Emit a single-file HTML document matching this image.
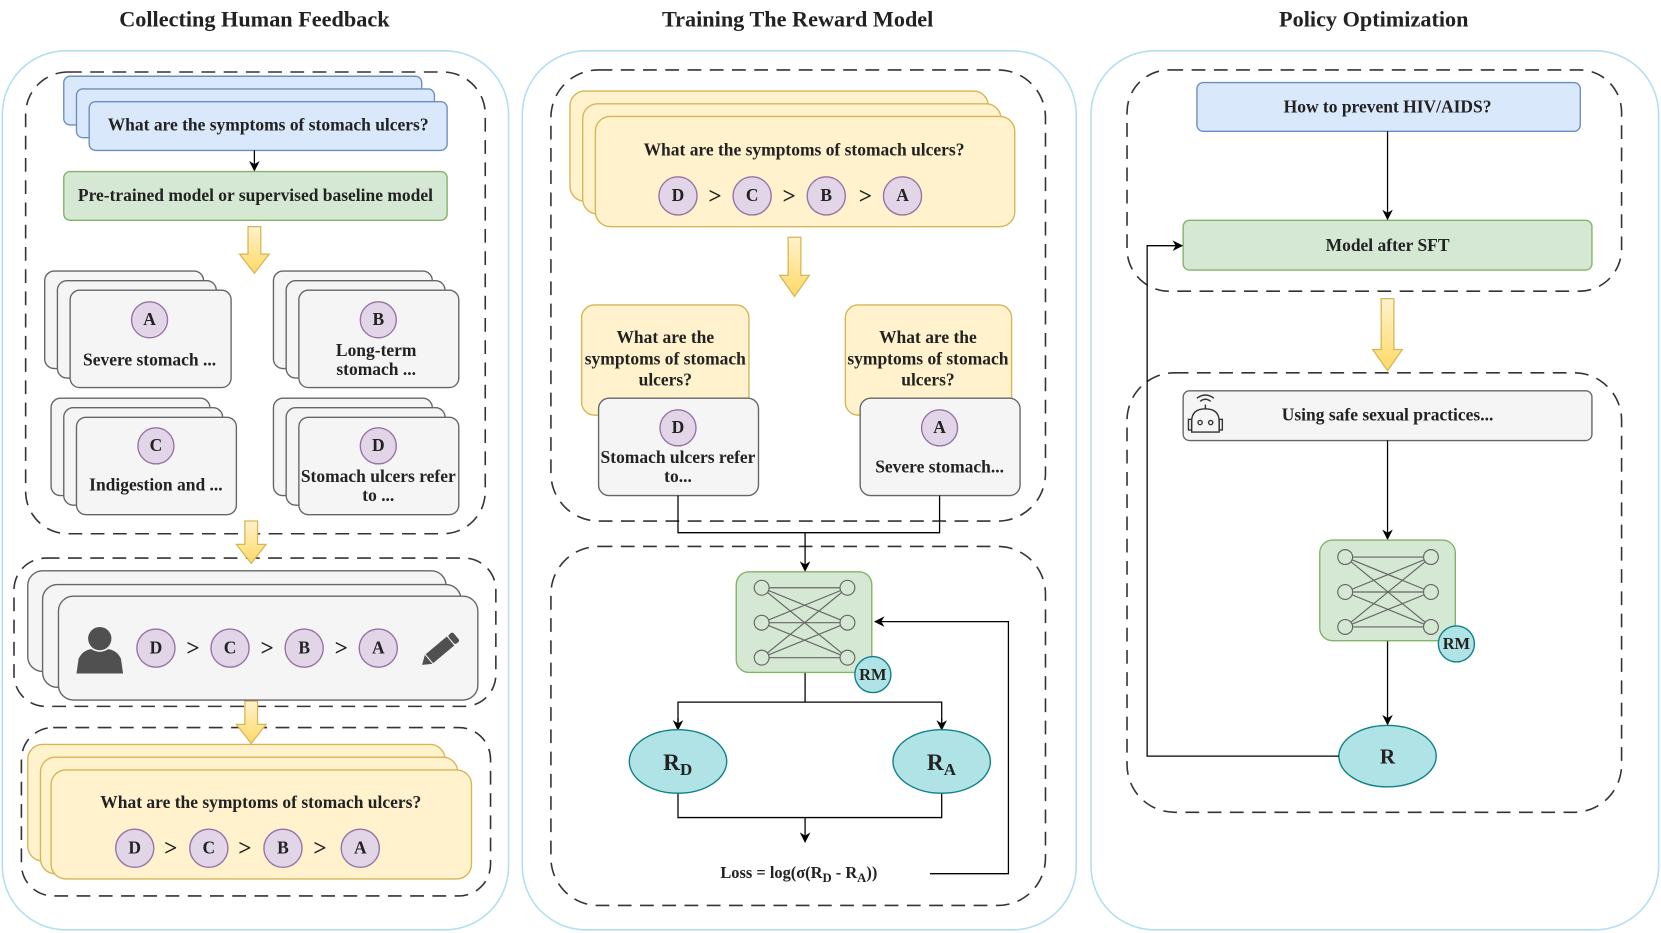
<!DOCTYPE html>
<html><head><meta charset="utf-8"><style>
html,body{margin:0;padding:0;background:#fff;width:1661px;height:933px;overflow:hidden}
svg{display:block}
text{font-family:"Liberation Serif","Times New Roman",serif;font-weight:bold;fill:#222}
</style></head><body>
<svg width="1661" height="933" viewBox="0 0 1568 881" xmlns="http://www.w3.org/2000/svg">
<defs>
<linearGradient id="yg" x1="0" y1="0" x2="0" y2="1"><stop offset="0" stop-color="#fff2cc"/><stop offset="1" stop-color="#ffd966"/></linearGradient>
<marker id="ah" markerWidth="10" markerHeight="10" refX="9" refY="5" orient="auto" markerUnits="userSpaceOnUse"><path d="M0,0 L10,5 L0,10 L3,5 Z" fill="#000"/></marker>
</defs>

<text x="240" y="25" font-size="21" text-anchor="middle" fill="#000">Collecting Human Feedback</text>
<text x="753" y="25" font-size="21" text-anchor="middle" fill="#000">Training The Reward Model</text>
<text x="1297" y="25" font-size="21" text-anchor="middle" fill="#000">Policy Optimization</text>

<g fill="none" stroke="#b3dff0" stroke-width="1.5">
<rect x="2" y="48" width="478" height="830" rx="60"/>
<rect x="493" y="48" width="523" height="830" rx="60"/>
<rect x="1030" y="48" width="536" height="830" rx="60"/>
</g>

<g fill="none" stroke="#333" stroke-width="1.5" stroke-dasharray="13 8">
<rect x="24" y="68" width="434" height="436" rx="40"/>
<rect x="13" y="527" width="455" height="140" rx="30"/>
<rect x="20" y="687" width="443" height="159" rx="30"/>
<rect x="520" y="66" width="467" height="426" rx="45"/>
<rect x="520" y="516" width="467" height="339" rx="45"/>
<rect x="1064" y="66" width="467" height="209" rx="40"/>
<rect x="1064" y="352" width="467" height="415" rx="45"/>
</g>

<g fill="#dae8fc" stroke="#6c8ebf" stroke-width="1.3">
<rect x="60" y="72" width="338" height="46" rx="6"/>
<rect x="72" y="84" width="338" height="46" rx="6"/>
<rect x="84" y="96" width="338" height="46" rx="6"/>
</g>
<text x="253" y="123" font-size="16.5" text-anchor="middle">What are the symptoms of stomach ulcers?</text>
<line x1="240" y1="142" x2="240" y2="161" stroke="#000" stroke-width="1.2" marker-end="url(#ah)"/>
<rect x="60" y="162" width="362" height="46" rx="6" fill="#d5e8d4" stroke="#82b366" stroke-width="1.3"/>
<text x="241" y="190" font-size="16.5" text-anchor="middle">Pre-trained model or supervised baseline model</text>

<g fill="url(#yg)" stroke="#d6b656" stroke-width="1.2">
<polygon points="234,214 246,214 246,240 254,240 240,258 226,240 234,240"/>
<polygon points="231,492 243,492 243,514 251,514 237,532 223,514 231,514"/>
<polygon points="231,662 243,662 243,684 251,684 237,702 223,684 231,684"/>
<polygon points="744,224 756,224 756,260 764,260 750,280 736,260 744,260"/>
<polygon points="1304,282 1316,282 1316,330 1324,330 1310,350 1296,330 1304,330"/>
</g>

<g fill="#f5f5f5" stroke="#666" stroke-width="1.3">
<rect x="42" y="256" width="150" height="92" rx="9"/><rect x="54" y="265" width="150" height="92" rx="9"/><rect x="66" y="274" width="152" height="92" rx="9"/>
<rect x="258" y="256" width="150" height="92" rx="9"/><rect x="270" y="265" width="150" height="92" rx="9"/><rect x="282" y="274" width="151" height="92" rx="9"/>
<rect x="48" y="376" width="150" height="92" rx="9"/><rect x="60" y="385" width="150" height="92" rx="9"/><rect x="72" y="394" width="151" height="92" rx="9"/>
<rect x="258" y="376" width="150" height="92" rx="9"/><rect x="270" y="385" width="150" height="92" rx="9"/><rect x="282" y="394" width="151" height="92" rx="9"/>
<rect x="26" y="539" width="395" height="95" rx="14"/><rect x="40" y="552" width="395" height="97" rx="14"/><rect x="55" y="563" width="396" height="98" rx="14"/>
</g>

<g fill="#e1d5e7" stroke="#9673a6" stroke-width="1.3">
<circle cx="141" cy="302" r="17"/><circle cx="357" cy="302" r="17"/><circle cx="147" cy="421" r="17"/><circle cx="357" cy="421" r="17"/>
<circle cx="147" cy="612" r="18"/><circle cx="217" cy="612" r="18"/><circle cx="287" cy="612" r="18"/><circle cx="357" cy="612" r="18"/>
</g>
<g font-size="16.5" text-anchor="middle">
<text x="141" y="307">A</text><text x="357" y="307">B</text><text x="147" y="426">C</text><text x="357" y="426">D</text>
<text x="141" y="345">Severe stomach ...</text>
<text x="355" y="336">Long-term</text><text x="355" y="354">stomach ...</text>
<text x="147" y="463">Indigestion and ...</text>
<text x="357" y="455">Stomach ulcers refer</text><text x="357" y="473">to ...</text>
<text x="147" y="617">D</text><text x="217" y="617">C</text><text x="287" y="617">B</text><text x="357" y="617">A</text>
<text x="182" y="619" font-size="22">&gt;</text><text x="252" y="619" font-size="22">&gt;</text><text x="322" y="619" font-size="22">&gt;</text>
</g>
<g fill="#505050">
<circle cx="94" cy="603" r="11"/>
<path d="M72,636 L74,622 Q78,614 86,613 Q94,618 102,613 Q110,614 114,622 L116,636 Z"/>
</g>
<g transform="translate(416,613) rotate(-40)">
<rect x="-14" y="-5.5" width="26" height="11" fill="#505050"/>
<rect x="13" y="-5.5" width="6" height="11" rx="2" fill="#505050"/>
<polygon points="-15,-5.5 -15,5.5 -23,0" fill="#505050"/>
</g>

<g fill="#fff2cc" stroke="#d6b656" stroke-width="1.3">
<rect x="26" y="703" width="394" height="110" rx="14"/>
<rect x="38" y="715" width="394" height="110" rx="14"/>
<rect x="48" y="727" width="397" height="103" rx="14"/>
</g>
<g fill="#e1d5e7" stroke="#9673a6" stroke-width="1.3">
<circle cx="127" cy="801" r="18"/><circle cx="197" cy="801" r="18"/><circle cx="267" cy="801" r="18"/><circle cx="340" cy="801" r="18"/>
</g>
<g font-size="16.5" text-anchor="middle">
<text x="246" y="763">What are the symptoms of stomach ulcers?</text>
<text x="127" y="806">D</text><text x="197" y="806">C</text><text x="267" y="806">B</text><text x="340" y="806">A</text>
<text x="161" y="808" font-size="22">&gt;</text><text x="231" y="808" font-size="22">&gt;</text><text x="302" y="808" font-size="22">&gt;</text>
</g>

<g fill="#fff2cc" stroke="#d6b656" stroke-width="1.3">
<rect x="538" y="86" width="395" height="104" rx="14"/>
<rect x="550" y="98" width="395" height="104" rx="14"/>
<rect x="562" y="110" width="396" height="104" rx="14"/>
<rect x="549" y="288" width="158" height="104" rx="12"/>
<rect x="798" y="288" width="157" height="104" rx="12"/>
</g>
<g fill="#f5f5f5" stroke="#666" stroke-width="1.3">
<rect x="565" y="376" width="151" height="92" rx="10"/>
<rect x="812" y="376" width="151" height="92" rx="10"/>
</g>
<g fill="#e1d5e7" stroke="#9673a6" stroke-width="1.3">
<circle cx="640" cy="185" r="18"/><circle cx="710" cy="185" r="18"/><circle cx="780" cy="185" r="18"/><circle cx="852" cy="185" r="18"/>
<circle cx="640" cy="404" r="17"/><circle cx="887" cy="404" r="17"/>
</g>
<g font-size="16.5" text-anchor="middle">
<text x="759" y="147">What are the symptoms of stomach ulcers?</text>
<text x="640" y="190">D</text><text x="710" y="190">C</text><text x="780" y="190">B</text><text x="852" y="190">A</text>
<text x="675" y="192" font-size="22">&gt;</text><text x="745" y="192" font-size="22">&gt;</text><text x="817" y="192" font-size="22">&gt;</text>
<text x="628" y="324">What are the</text><text x="628" y="344">symptoms of stomach</text><text x="628" y="364">ulcers?</text>
<text x="876" y="324">What are the</text><text x="876" y="344">symptoms of stomach</text><text x="876" y="364">ulcers?</text>
<text x="640" y="409">D</text><text x="887" y="409">A</text>
<text x="640" y="437">Stomach ulcers refer</text><text x="640" y="455">to...</text>
<text x="887" y="446">Severe stomach...</text>
</g>
<g fill="none" stroke="#000" stroke-width="1.2">
<polyline points="640,468 640,503 887,503 887,468"/>
<line x1="760" y1="503" x2="760" y2="539" marker-end="url(#ah)"/>
<line x1="760" y1="635" x2="760" y2="663"/>
<polyline points="640,690 640,663 889,663 889,690"/>
<polyline points="640,749 640,772 889,772 889,749"/>
<line x1="760" y1="772" x2="760" y2="795" marker-end="url(#ah)"/>
<polyline points="878,825 952,825 952,587 826,587" marker-end="url(#ah)"/>
<line x1="640" y1="678" x2="640" y2="689" marker-end="url(#ah)"/>
<line x1="889" y1="678" x2="889" y2="689" marker-end="url(#ah)"/>
</g>

<g>
<rect x="695" y="540" width="128" height="95" rx="12" fill="#d5e8d4" stroke="#82b366" stroke-width="1.3"/>
<g stroke="#666" stroke-width="1.1">
<line x1="719" y1="555" x2="800" y2="555"/><line x1="719" y1="555" x2="800" y2="588"/><line x1="719" y1="555" x2="800" y2="621"/>
<line x1="719" y1="588" x2="800" y2="555"/><line x1="719" y1="588" x2="800" y2="588"/><line x1="719" y1="588" x2="800" y2="621"/>
<line x1="719" y1="621" x2="800" y2="555"/><line x1="719" y1="621" x2="800" y2="588"/><line x1="719" y1="621" x2="800" y2="621"/>
</g>
<g fill="#d5e8d4" stroke="#666" stroke-width="1.1">
<circle cx="719" cy="555" r="7"/><circle cx="719" cy="588" r="7"/><circle cx="719" cy="621" r="7"/>
<circle cx="800" cy="555" r="7"/><circle cx="800" cy="588" r="7"/><circle cx="800" cy="621" r="7"/>
</g>
<circle cx="824" cy="637" r="17" fill="#b0e3e6" stroke="#0e8088" stroke-width="1.3"/>
<text x="824" y="642" font-size="15.5" text-anchor="middle">RM</text>
</g>

<g fill="#b0e3e6" stroke="#0e8088" stroke-width="1.3">
<ellipse cx="640" cy="719" rx="46" ry="30"/>
<ellipse cx="889" cy="719" rx="46" ry="30"/>
<ellipse cx="1310" cy="714" rx="46" ry="29"/>
</g>
<text x="626" y="727" font-size="22" fill="#333">R<tspan font-size="16" dy="5">D</tspan></text>
<text x="875" y="727" font-size="22" fill="#333">R<tspan font-size="16" dy="5">A</tspan></text>
<text x="1310" y="721" font-size="20" text-anchor="middle" fill="#333">R</text>
<text x="680" y="829" font-size="15.5" fill="#333">Loss = log(σ(R<tspan font-size="12" dy="4">D</tspan><tspan dy="-4"> - R</tspan><tspan font-size="12" dy="4">A</tspan><tspan dy="-4">))</tspan></text>

<rect x="1130" y="78" width="362" height="46" rx="6" fill="#dae8fc" stroke="#6c8ebf" stroke-width="1.3"/>
<text x="1310" y="106" font-size="16.5" text-anchor="middle">How to prevent HIV/AIDS?</text>
<rect x="1117" y="208" width="386" height="47" rx="6" fill="#d5e8d4" stroke="#82b366" stroke-width="1.3"/>
<text x="1310" y="237" font-size="16.5" text-anchor="middle">Model after SFT</text>
<rect x="1117" y="369" width="386" height="47" rx="6" fill="#f5f5f5" stroke="#666" stroke-width="1.3"/>
<text x="1310" y="397" font-size="16.5" text-anchor="middle" fill="#333">Using safe sexual practices...</text>
<g fill="none" stroke="#333" stroke-width="1.3">
<path d="M1125,408 L1125,398 Q1125,386 1138,386 Q1151,386 1151,398 L1151,408 Z"/>
<circle cx="1133" cy="399" r="2"/><circle cx="1143" cy="399" r="2"/>
<line x1="1138" y1="386" x2="1138" y2="382"/>
<path d="M1133,379 Q1138,375 1143,379"/><path d="M1130,376 Q1138,370 1146,376"/>
<rect x="1122" y="396" width="3" height="10"/><rect x="1151" y="396" width="3" height="10"/>
</g>
<g fill="none" stroke="#000" stroke-width="1.2">
<line x1="1310" y1="124" x2="1310" y2="207" marker-end="url(#ah)"/>
<line x1="1310" y1="416" x2="1310" y2="509" marker-end="url(#ah)"/>
<line x1="1310" y1="605" x2="1310" y2="684" marker-end="url(#ah)"/>
<polyline points="1264,714 1083,714 1083,232 1116,232" marker-end="url(#ah)"/>
</g>
<g>
<rect x="1246" y="510" width="128" height="95" rx="12" fill="#d5e8d4" stroke="#82b366" stroke-width="1.3"/>
<g stroke="#666" stroke-width="1.1">
<line x1="1270" y1="526" x2="1351" y2="526"/><line x1="1270" y1="526" x2="1351" y2="559"/><line x1="1270" y1="526" x2="1351" y2="592"/>
<line x1="1270" y1="559" x2="1351" y2="526"/><line x1="1270" y1="559" x2="1351" y2="559"/><line x1="1270" y1="559" x2="1351" y2="592"/>
<line x1="1270" y1="592" x2="1351" y2="526"/><line x1="1270" y1="592" x2="1351" y2="559"/><line x1="1270" y1="592" x2="1351" y2="592"/>
</g>
<g fill="#d5e8d4" stroke="#666" stroke-width="1.1">
<circle cx="1270" cy="526" r="7"/><circle cx="1270" cy="559" r="7"/><circle cx="1270" cy="592" r="7"/>
<circle cx="1351" cy="526" r="7"/><circle cx="1351" cy="559" r="7"/><circle cx="1351" cy="592" r="7"/>
</g>
<circle cx="1375" cy="608" r="17" fill="#b0e3e6" stroke="#0e8088" stroke-width="1.3"/>
<text x="1375" y="613" font-size="15.5" text-anchor="middle">RM</text>
</g>
</svg>
</body></html>
